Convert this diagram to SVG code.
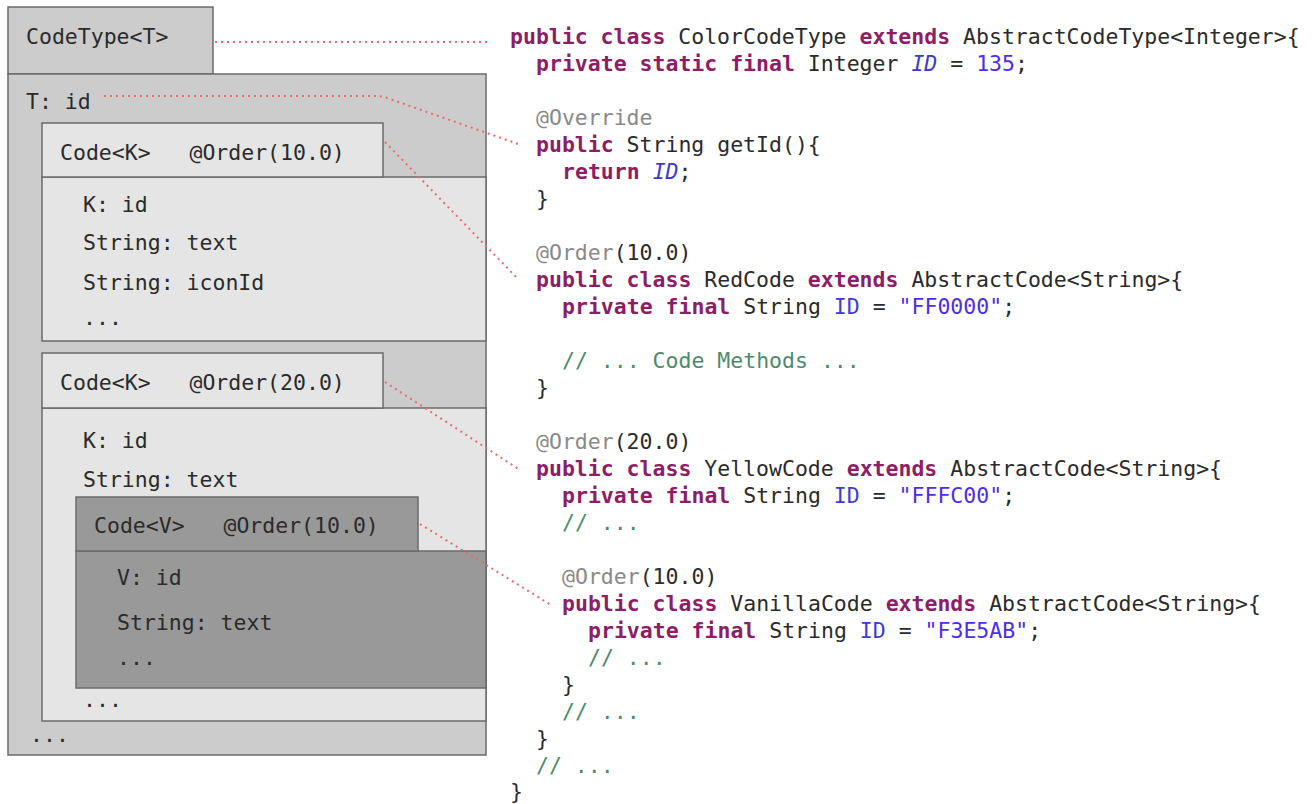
<svg xmlns="http://www.w3.org/2000/svg" width="1314" height="804" viewBox="0 0 1314 804">
<style>
text{font-family:"DejaVu Sans Mono","Liberation Mono",monospace;font-size:21.5px;fill:#2b2b2b;white-space:pre}
.box{stroke:#6b6b6b;stroke-width:1.5}
.l0{fill:#cccccc}.l1{fill:#e5e5e5}.l2{fill:#999999}
.kw{fill:#8e1c66;font-weight:bold}
.an{fill:#8a8a8a}
.fi{fill:#3b3bd0;font-style:italic}
.fd{fill:#3c3cd4}
.lit{fill:#4a2df0}
.cm{fill:#4f8a6e}
.con{fill:none;stroke:#ee6a6a;stroke-width:2;stroke-dasharray:2 4}
</style>
<rect width="1314" height="804" fill="#ffffff"/>

<g id="codetype">
<rect class="box l0" x="8" y="7" width="205" height="67"/>
<rect class="box l0" x="8" y="74" width="478" height="681"/>
<text x="26" y="44">CodeType&lt;T&gt;</text>
<text x="26" y="109">T: id</text>
<text x="30" y="742">...</text>
</g>

<g id="code1">
<rect class="box l1" x="42" y="177" width="444" height="164"/>
<rect class="box l1" x="42" y="123" width="341" height="54"/>
<text x="60" y="160">Code&lt;K&gt;   @Order(10.0)</text>
<text x="83" y="212">K: id</text>
<text x="83" y="250">String: text</text>
<text x="83" y="290">String: iconId</text>
<text x="83" y="325">...</text>
</g>

<g id="code2">
<rect class="box l1" x="42" y="408" width="444" height="313"/>
<rect class="box l1" x="42" y="353" width="341" height="55"/>
<text x="60" y="390">Code&lt;K&gt;   @Order(20.0)</text>
<text x="83" y="448">K: id</text>
<text x="83" y="487">String: text</text>
<text x="83" y="707">...</text>
</g>

<g id="code3">
<rect class="box l2" x="76" y="551" width="410" height="137"/>
<rect class="box l2" x="76" y="497" width="342" height="54"/>
<text x="94" y="533">Code&lt;V&gt;   @Order(10.0)</text>
<text x="117" y="585">V: id</text>
<text x="117" y="630">String: text</text>
<text x="117" y="665">...</text>
</g>

<g id="source">
<text x="510" y="44"><tspan class="kw">public class</tspan> ColorCodeType <tspan class="kw">extends</tspan> AbstractCodeType&lt;Integer&gt;{</text>
<text x="536" y="71"><tspan class="kw">private static final</tspan> Integer <tspan class="fi">ID</tspan> = <tspan class="lit">135</tspan>;</text>
<text x="536" y="125" class="an">@Override</text>
<text x="536" y="152"><tspan class="kw">public</tspan> String getId(){</text>
<text x="562" y="179"><tspan class="kw">return</tspan> <tspan class="fi">ID</tspan>;</text>
<text x="536" y="206">}</text>
<text x="536" y="260"><tspan class="an">@Order</tspan>(10.0)</text>
<text x="536" y="287"><tspan class="kw">public class</tspan> RedCode <tspan class="kw">extends</tspan> AbstractCode&lt;String&gt;{</text>
<text x="562" y="314"><tspan class="kw">private final</tspan> String <tspan class="fd">ID</tspan> = <tspan class="lit">"FF0000"</tspan>;</text>
<text x="562" y="368" class="cm">// ... Code Methods ...</text>
<text x="536" y="395">}</text>
<text x="536" y="449"><tspan class="an">@Order</tspan>(20.0)</text>
<text x="536" y="476"><tspan class="kw">public class</tspan> YellowCode <tspan class="kw">extends</tspan> AbstractCode&lt;String&gt;{</text>
<text x="562" y="503"><tspan class="kw">private final</tspan> String <tspan class="fd">ID</tspan> = <tspan class="lit">"FFFC00"</tspan>;</text>
<text x="562" y="530" class="cm">// ...</text>
<text x="562" y="584"><tspan class="an">@Order</tspan>(10.0)</text>
<text x="562" y="611"><tspan class="kw">public class</tspan> VanillaCode <tspan class="kw">extends</tspan> AbstractCode&lt;String&gt;{</text>
<text x="588" y="638"><tspan class="kw">private final</tspan> String <tspan class="fd">ID</tspan> = <tspan class="lit">"F3E5AB"</tspan>;</text>
<text x="588" y="665" class="cm">// ...</text>
<text x="562" y="692">}</text>
<text x="562" y="719" class="cm">// ...</text>
<text x="536" y="746">}</text>
<text x="536" y="773" class="cm">// ...</text>
<text x="510" y="799">}</text>
</g>

<g id="connectors">
<path class="con" d="M215 42 H487"/>
<path class="con" d="M104 96 H376 Q382 96 390 99 L521 145"/>
<path class="con" d="M385 142 L518 279"/>
<path class="con" d="M385 382 L520 470"/>
<path class="con" d="M420 524 L551 605"/>
</g>
</svg>
